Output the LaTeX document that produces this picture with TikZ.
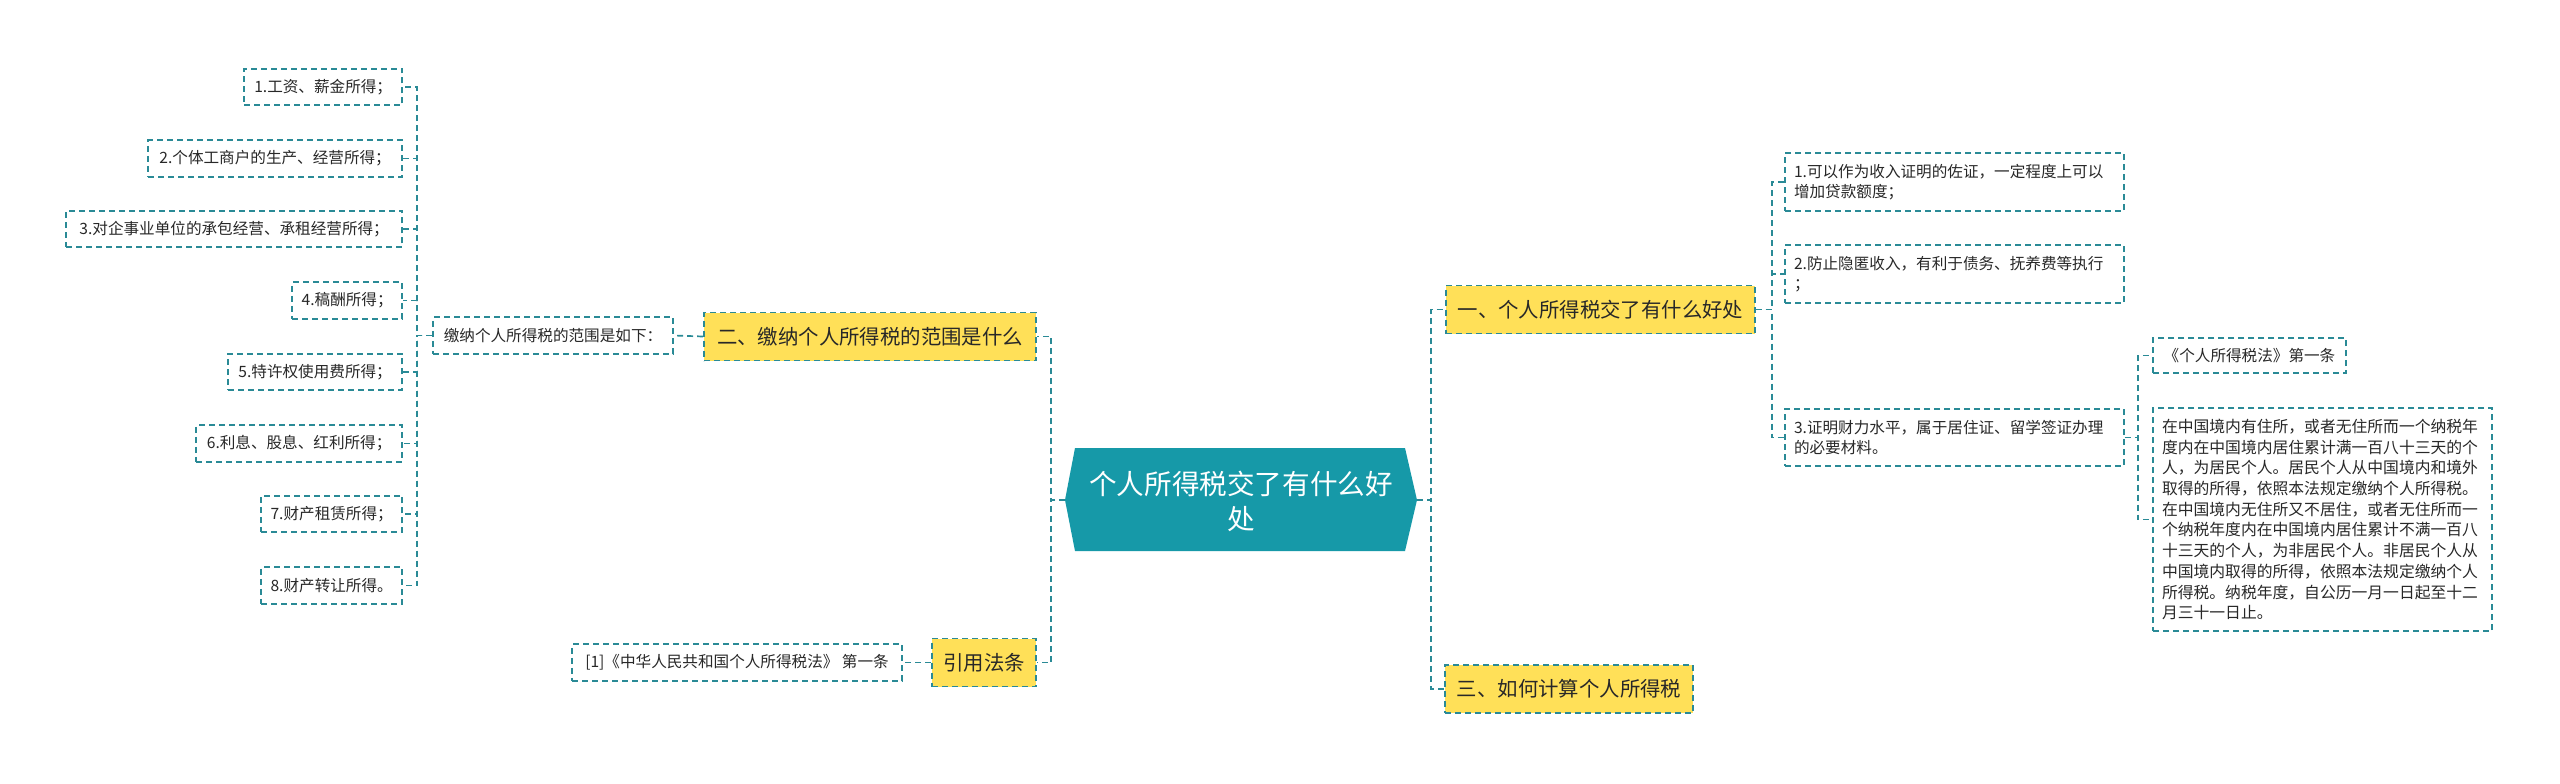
\documentclass[tikz,border=0pt]{standalone}
\usepackage{fontspec}
\setmainfont{Noto Sans CJK SC}
\definecolor{lineteal}{RGB}{42,138,150}
\definecolor{rootfill}{RGB}{22,153,168}
\definecolor{yel}{RGB}{255,224,88}
\definecolor{txt}{RGB}{40,40,40}
\begin{document}
\begin{tikzpicture}[x=0.5pt,y=-0.5pt,
  conn/.style={draw=lineteal,line width=0.85pt,dash pattern=on 3pt off 2pt},
  leaf/.style={draw=lineteal,line width=0.85pt,dash pattern=on 3pt off 2pt,fill=white,
    text=txt,font=\fontsize{7.8}{10}\selectfont,minimum height=18.25pt,inner xsep=4.5pt,inner ysep=0pt},
  multi/.style={leaf,align=left,text width=160.5pt},
  topic/.style={draw=lineteal,line width=0.85pt,dash pattern=on 3pt off 2pt,fill=yel,
    text=txt,font=\fontsize{10.2}{12}\selectfont,minimum height=24pt,inner xsep=2pt,inner ysep=0pt}]
\useasboundingbox (0,0) rectangle (2560,783);
\fill[white] (0,0) rectangle (2560,783);

% root hexagon
\fill[rootfill] (1075,448) -- (1405,448) -- (1417,500) -- (1405,551) -- (1075,551) -- (1065,500) -- cycle;
\node[text=white,font=\fontsize{13.8}{17.5}\selectfont,align=center] (root) at (1241,501)
  {个人所得税交了有什么好\\处};
\coordinate (rootW) at (1065,500);
\coordinate (rootE) at (1417,500);

% left topics
\node[topic,minimum width=166pt] (y2) at (870,336.5) {二、缴纳个人所得税的范围是什么};
\node[topic,minimum width=52pt] (y4) at (984,662.5) {引用法条};
\node[leaf,minimum width=165pt] (cite) at (737,662.5) {[1]《中华人民共和国个人所得税法》 第一条};
\node[leaf,minimum width=120pt] (lj) at (553,335.5) {缴纳个人所得税的范围是如下：};

\node[leaf,minimum width=79pt,anchor=east] (l1) at (403,87) {1.工资、薪金所得；};
\node[leaf,minimum width=127pt,anchor=east] (l2) at (403,158.5) {2.个体工商户的生产、经营所得；};
\node[leaf,minimum width=168pt,anchor=east] (l3) at (403,229) {3.对企事业单位的承包经营、承租经营所得；};
\node[leaf,minimum width=55pt,anchor=east] (l4) at (403,300.5) {4.稿酬所得；};
\node[leaf,minimum width=87pt,anchor=east] (l5) at (403,372) {5.特许权使用费所得；};
\node[leaf,minimum width=103pt,anchor=east] (l6) at (403,443.5) {6.利息、股息、红利所得；};
\node[leaf,minimum width=70.5pt,anchor=east] (l7) at (403,514) {7.财产租赁所得；};
\node[leaf,minimum width=70.5pt,anchor=east] (l8) at (403,585.5) {8.财产转让所得。};

% right topics
\node[topic,minimum width=154.5pt] (y1) at (1600.5,309.5) {一、个人所得税交了有什么好处};
\node[topic,minimum width=124pt] (y3) at (1569,689) {三、如何计算个人所得税};

\node[multi,minimum height=29pt] (r1) at (1954.5,182) {1.可以作为收入证明的佐证，一定程度上可以\\增加贷款额度；};
\node[multi,minimum height=29pt] (r2) at (1954.5,274) {2.防止隐匿收入，有利于债务、抚养费等执行\\；};
\node[multi,minimum height=28.5pt] (r3) at (1954.5,437.5) {3.证明财力水平，属于居住证、留学签证办理\\的必要材料。};

\node[leaf,minimum width=96.5pt,minimum height=17.5pt] (ra) at (2249.5,355.5) {《个人所得税法》第一条};
\node[multi,font=\fontsize{7.9}{10.35}\selectfont,minimum height=111.5pt] (rb) at (2322.5,519.5)
 {在中国境内有住所，或者无住所而一个纳税年\\
  度内在中国境内居住累计满一百八十三天的个\\
  人，为居民个人。居民个人从中国境内和境外\\
  取得的所得，依照本法规定缴纳个人所得税。\\
  在中国境内无住所又不居住，或者无住所而一\\
  个纳税年度内在中国境内居住累计不满一百八\\
  十三天的个人，为非居民个人。非居民个人从\\
  中国境内取得的所得，依照本法规定缴纳个人\\
  所得税。纳税年度，自公历一月一日起至十二\\
  月三十一日止。};

% connectors
\draw[conn] (rootW) -- ++(-14,0) |- (y2.east);
\draw[conn] (rootW) -- ++(-14,0) |- (y4.east);
\draw[conn] (y2.west) -- (lj.east);
\draw[conn] (y4.west) -- (cite.east);
\foreach \n in {l1,l2,l3,l4,l5,l6,l7,l8}
  \draw[conn] (lj.west) -- ++(-15,0) |- (\n.east);

\draw[conn] (rootE) -- ++(14,0) |- (y1.west);
\draw[conn] (rootE) -- ++(14,0) |- (y3.west);
\foreach \n in {r1,r2,r3}
  \draw[conn] (y1.east) -- ++(16,0) |- (\n.west);
\draw[conn] (r3.east) -- ++(13,0) |- (ra.west);
\draw[conn] (r3.east) -- ++(13,0) |- (rb.west);
\end{tikzpicture}
\end{document}
